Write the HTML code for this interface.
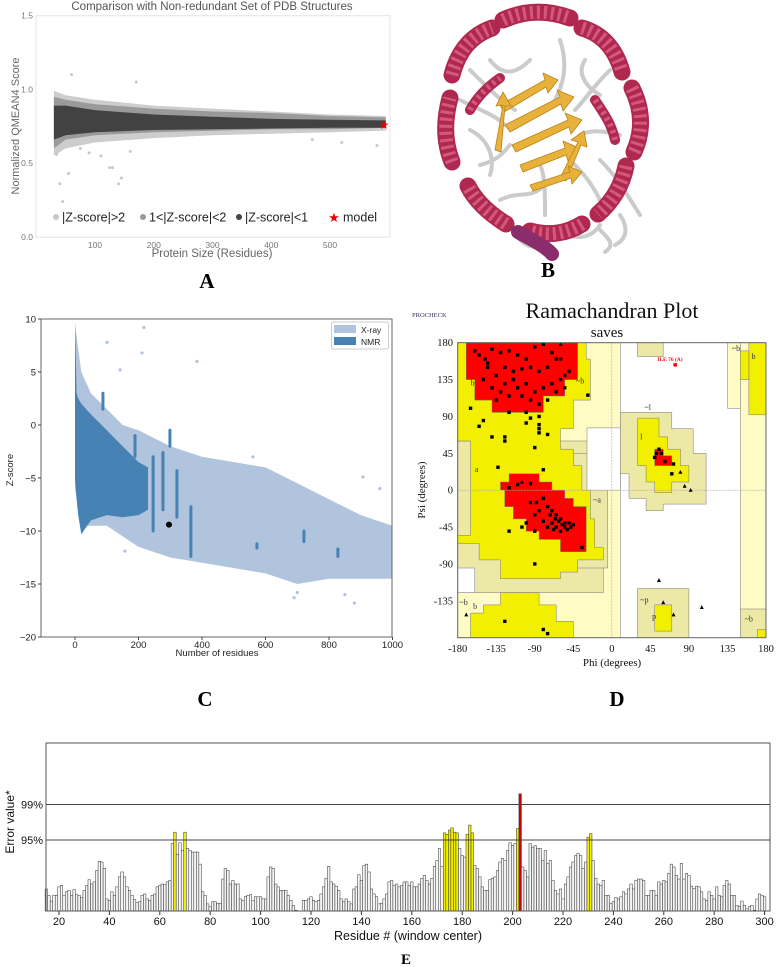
<!DOCTYPE html>
<html><head><meta charset="utf-8"><style>
html,body{margin:0;padding:0;background:#fff}
svg{display:block}
text{font-family:"Liberation Sans",sans-serif}
.serif{font-family:"Liberation Serif",serif}
</style></head><body>
<svg id="fig" width="778" height="967" viewBox="0 0 778 967" xmlns="http://www.w3.org/2000/svg">
<rect width="778" height="967" fill="#fff"/>
<g id="pA">
<text x="212" y="10" font-size="11.5" fill="#555" text-anchor="middle">Comparison with Non-redundant Set of PDB Structures</text>
<rect x="36" y="15.7" width="354" height="221.5" fill="none" stroke="#e4e4e4"/>
<text transform="translate(19,126) rotate(-90)" font-size="11" fill="#666" text-anchor="middle">Normalized QMEAN4 Score</text>
<text x="212" y="257" font-size="11.5" fill="#666" text-anchor="middle">Protein Size (Residues)</text>
<g font-size="12.5" fill="#222">
<circle cx="56" cy="217" r="3" fill="#c8c8c8"/><text x="62" y="221.5">|Z-score|&gt;2</text>
<circle cx="143" cy="217" r="3" fill="#999"/><text x="149" y="221.5">1&lt;|Z-score|&lt;2</text>
<circle cx="239" cy="217" r="3" fill="#444"/><text x="245" y="221.5">|Z-score|&lt;1</text>
<text x="334" y="222" font-size="13" fill="#e00" text-anchor="middle">★</text><text x="343" y="221.5">model</text>
</g>
</g>
<text x="207" y="288" class="serif" font-size="21" font-weight="bold" text-anchor="middle">A</text>
<g id="pB" fill="none" stroke-linecap="round" stroke-linejoin="round"></g>
<text x="548" y="277" class="serif" font-size="21" font-weight="bold" text-anchor="middle">B</text>
<g id="pC">
<text transform="translate(13,470) rotate(-90)" font-size="9.5" fill="#222" text-anchor="middle">Z-score</text>
<text x="217" y="656" font-size="9.5" fill="#222" text-anchor="middle">Number of residues</text>
</g>
<text x="205" y="706" class="serif" font-size="21" font-weight="bold" text-anchor="middle">C</text>
<g id="pD">
<text x="412" y="317" class="serif" font-size="6.5" fill="#335">PROCHECK</text>
<text x="612" y="318" class="serif" font-size="22" fill="#111" text-anchor="middle">Ramachandran Plot</text>
<text x="607" y="337" class="serif" font-size="15" fill="#111" text-anchor="middle">saves</text>
<text transform="translate(425,490) rotate(-90)" class="serif" font-size="11" fill="#111" text-anchor="middle">Psi (degrees)</text>
<text x="612" y="666" class="serif" font-size="11" fill="#111" text-anchor="middle">Phi (degrees)</text>
</g>
<text x="617" y="706" class="serif" font-size="21" font-weight="bold" text-anchor="middle">D</text>
<g id="pE">
<text transform="translate(14,822) rotate(-90)" font-size="12" fill="#111" text-anchor="middle">Error value*</text>
<text x="408" y="940" font-size="12.5" fill="#111" text-anchor="middle">Residue # (window center)</text>
</g>
<text x="406" y="964" class="serif" font-size="15" font-weight="bold" text-anchor="middle">E</text>
</svg>
<script>
// ---------- Panel A data ----------
const aBandX = [30, 50, 100, 200, 300, 400, 500, 595];
const aLightHi = [0.99, 0.96, 0.93, 0.89, 0.87, 0.85, 0.83, 0.82];
const aLightLo = [0.55, 0.60, 0.64, 0.67, 0.69, 0.70, 0.71, 0.72];
const aMedHi = [0.95, 0.93, 0.90, 0.87, 0.85, 0.84, 0.82, 0.81];
const aMedLo = [0.60, 0.66, 0.69, 0.71, 0.72, 0.73, 0.73, 0.74];
const aDarkHi = [0.89, 0.89, 0.86, 0.83, 0.815, 0.80, 0.795, 0.79];
const aDarkLo = [0.66, 0.69, 0.71, 0.725, 0.73, 0.735, 0.74, 0.74];
const aOutX = [60, 170, 40, 45, 140, 125, 130, 55, 90, 145, 35, 75, 110, 160, 580, 470, 520];
const aOutY = [1.10, 1.05, 0.36, 0.24, 0.36, 0.47, 0.47, 0.43, 0.57, 0.40, 0.56, 0.6, 0.55, 0.58, 0.62, 0.66, 0.64];
const aModelX = [592];
const aModelY = [0.76];
const aXTicks = [100, 200, 300, 400, 500];
const aYTicks = [0.0, 0.5, 1.0, 1.5];
// ---------- Panel C data ----------
const cXrayX = [0, 20, 50, 100, 150, 200, 300, 400, 500, 600, 700, 800, 900, 1000];
const cXrayHi = [9.5, 5, 3, 1.5, 0, -0.5, -2, -3, -3.5, -4, -5.5, -7, -8.5, -9.5];
const cXrayLo = [-6, -9.5, -9.5, -9.5, -10.5, -11.5, -12.5, -13, -13.5, -14, -15, -14.5, -14.5, -14.5];
const cNmrX = [0, 5, 10, 20, 50, 100, 150, 200, 230];
const cNmrHi = [9.8, 3, 2.5, 2, 1, -0.5, -2, -3.5, -4];
const cNmrLo = [-5, -7, -8.5, -10.3, -9, -8.5, -8.7, -8.5, -8];
const cStreakX = [88, 189, 246, 277, 299, 321, 365, 573, 721, 828];
const cStreakTop = [3, -1, -3, -2.6, -0.5, -4.3, -7.7, -11.2, -10, -11.7];
const cStreakBot = [1.5, -3, -10, -8, -2, -8.7, -12.4, -11.6, -11, -12.4];
const cOutX = [217, 384, 101, 211, 142, 157, 907, 690, 700, 880, 850, 640, 560, 960];
const cOutZ = [9.2, 6, 7.8, 6.8, 5.2, -11.9, -4.9, -16.3, -15.8, -16.8, -16, -14, -3, -6];
const cModelX = [296];
const cModelZ = [-9.4];
const cXTicks = [0, 200, 400, 600, 800, 1000];
const cYTicks = [10, 5, 0, -5, -10, -15, -20];
// ---------- Panel D data (degrees) ----------
const dTicks = [-180, -135, -90, -45, 0, 45, 90, 135, 180];
const dPhi = [-160,-155,-148,-140,-130,-120,-110,-100,-90,-80,-70,-65,-75,-85,-95,-105,-115,-125,-135,-145,-150,-140,-130,-120,-110,-100,-90,-80,-70,-60,-55,-65,-75,-85,-95,-105,-115,-125,-135,-145,-60,-50,-55,-100,-120,-28,
 -165,-150,-155,-140,-125,-125,-100,-85,-85,-85,-85,-75,-90,-95,-133,
 -110,-95,-120,-80,-95,-88,-80,-75,-70,-65,-60,-55,-50,-65,-60,-55,-70,-62,-58,-66,-72,-52,-48,-45,-68,-75,-80,-85,-90,-100,-105,-120,-90,-35,-90,-80,-75,-125,
 55,52,50,58,62,70,72];
const dPsi = [170,165,160,172,168,170,165,160,175,178,168,160,150,145,150,148,145,150,140,150,135,125,120,115,125,130,120,125,130,135,140,120,110,105,110,115,135,130,110,155,160,145,125,95,95,116,
 100,85,78,65,65,60,82,90,80,75,70,68,52,88,28,
 7,8,3,25,-15,-15,-10,-20,-25,-30,-35,-40,-40,-45,-50,-45,-40,-38,-42,-35,-30,-48,-45,-42,-48,-45,-38,-25,-30,-40,-45,-50,-50,-70,-90,-170,-175,-160,
 50,45,40,45,35,20,32];
const dGlyPhi = [-105, -60, 80, 85, 92, 55, 60, 72, 105, -170];
const dGlyPsi = [10, 178, 22, 5, 0, -110, -137, -152, -143, -152];
const dFlagPhi = [74];
const dFlagPsi = [153];
// ---------- Panel E data ----------
const eStart = 15;
const eValues = [
0.31,0.22,0.14,0.22,0.22,0.34,0.36,0.22,0.27,0.29, 0.22,0.30,0.23,0.22,0.19,0.29,0.36,0.44,0.38,0.41,
0.57,0.70,0.69,0.60,0.17,0.15,0.27,0.22,0.34,0.48, 0.55,0.48,0.34,0.29,0.22,0.16,0.12,0.13,0.22,0.24,
0.17,0.15,0.22,0.24,0.34,0.36,0.38,0.37,0.41,0.43, 0.95,1.11,0.80,0.96,0.85,1.11,0.88,0.85,0.83,0.83,
0.83,0.66,0.27,0.22,0.10,0.06,0.13,0.13,0.11,0.11, 0.45,0.60,0.57,0.38,0.43,0.38,0.38,0.17,0.15,0.20,
0.22,0.23,0.15,0.20,0.20,0.20,0.17,0.17,0.48,0.62, 0.60,0.38,0.34,0.29,0.29,0.29,0.22,0.15,0.08,0.01,
0.00,0.00,0.15,0.15,0.17,0.20,0.15,0.13,0.15,0.24, 0.34,0.46,0.63,0.41,0.38,0.35,0.29,0.17,0.13,0.17,
0.13,0.10,0.31,0.34,0.51,0.43,0.64,0.66,0.55,0.31, 0.24,0.20,0.10,0.11,0.17,0.24,0.41,0.43,0.36,0.38,
0.34,0.36,0.41,0.41,0.36,0.41,0.34,0.34,0.38,0.46, 0.50,0.43,0.38,0.46,0.63,0.71,0.88,0.63,1.10,1.08,
1.14,1.17,1.11,1.10,0.88,0.78,0.76,1.08,1.21,1.10, 0.64,0.60,0.48,0.34,0.29,0.29,0.44,0.46,0.48,0.57,
0.69,0.74,0.71,0.85,0.96,0.92,0.95,1.16,1.65,0.62, 0.57,0.48,0.95,0.90,0.92,0.88,0.88,0.71,0.85,0.67,
0.71,0.43,0.29,0.24,0.31,0.17,0.38,0.48,0.62,0.69, 0.78,0.81,0.78,0.60,0.69,1.04,1.09,0.71,0.46,0.38,
0.36,0.43,0.22,0.22,0.11,0.13,0.19,0.17,0.20,0.27, 0.24,0.31,0.38,0.31,0.43,0.45,0.45,0.43,0.22,0.22,
0.29,0.29,0.22,0.41,0.38,0.43,0.41,0.53,0.66,0.62, 0.50,0.45,0.67,0.45,0.53,0.50,0.35,0.32,0.35,0.34,
0.27,0.17,0.15,0.27,0.22,0.17,0.34,0.22,0.20,0.36, 0.43,0.38,0.22,0.22,0.08,0.06,0.14,0.08,0.03,0.06,
0.08,0.01,0.17,0.24,0.22,0.20];
const eThresholds = [1.0, 1.5];
const eThresholdLabels = ['95%', '99%'];
const eXTicks = [20,40,60,80,100,120,140,160,180,200,220,240,260,280,300];

const NS = 'http://www.w3.org/2000/svg';
const svg = document.getElementById('fig');
function mk(tag, parent, attrs) { const e = document.createElementNS(NS, tag); for (const k in attrs) e.setAttribute(k, attrs[k]); (parent || svg).appendChild(e); return e; }

// ===== Panel A =====
const gA = document.getElementById('pA');
const axA = v => 36.25 + v * 0.5875;
const ayA = v => 237 - v * 147.6;
function bandPath(xs, hi, lo, fx, fy) {
  let d = '';
  xs.forEach((x, i) => { d += (i ? 'L' : 'M') + fx(x).toFixed(1) + ' ' + fy(hi[i]).toFixed(1); });
  for (let i = xs.length - 1; i >= 0; i--) d += 'L' + fx(xs[i]).toFixed(1) + ' ' + fy(lo[i]).toFixed(1);
  return d + 'Z';
}
[[aLightHi, aLightLo, '#cdcdcd', 'band-z-gt2'], [aMedHi, aMedLo, '#9a9a9a', 'band-z-1-2'], [aDarkHi, aDarkLo, '#424242', 'band-z-lt1']].forEach(b => {
  const p = mk('path', gA, { d: bandPath(aBandX, b[0], b[1], axA, ayA), fill: b[2] });
  
  
});
aOutX.forEach((x, i) => {
  const c = mk('circle', gA, { cx: axA(x), cy: ayA(aOutY[i]), r: 1.5, fill: '#c8c8c8' });
  
  
});
aModelX.forEach((x, i) => {
  const t = mk('text', gA, { x: axA(x), y: ayA(aModelY[i]) + 4, 'font-size': 12, fill: '#e00', 'text-anchor': 'middle' });
  t.textContent = '★';
  
  
});
aXTicks.forEach(v => {
  const t = mk('text', gA, { x: axA(v), y: 248, 'font-size': 8.5, fill: '#777', 'text-anchor': 'middle' });
  t.textContent = v;
  
  
});
aYTicks.forEach(v => {
  const t = mk('text', gA, { x: 33, y: ayA(v) + 3, 'font-size': 8.5, fill: '#777', 'text-anchor': 'end' });
  t.textContent = v.toFixed(1);
  
  
});

// ===== Panel B (illustration) =====
const gB = document.getElementById('pB');
const coilPaths = ['M470 70 C490 90 500 100 515 110','M560 40 C570 70 560 90 555 100','M610 70 C590 90 585 100 575 110',
 'M620 135 C600 130 590 130 580 135','M600 200 C590 180 580 170 570 160','M545 215 C545 190 545 175 540 165',
 'M480 165 C500 160 505 150 510 145','M460 100 C480 110 495 115 505 125','M555 230 C575 240 590 240 600 225',
 'M520 240 C530 250 540 245 548 255','M600 230 C610 240 615 245 605 252','M490 60 C505 80 520 70 530 60',
 'M500 200 C520 190 530 200 545 185','M585 60 C575 75 590 90 600 95','M470 130 C490 140 495 160 490 175',
 'M600 160 C620 180 630 200 640 215','M620 215 C630 230 625 240 615 245'];
coilPaths.forEach(d => {
  const p = mk('path', gB, { d: d, stroke: '#cbcbcb', 'stroke-width': 4 });
  
  
});
const helixPaths = ['M452 75 C458 52 470 36 492 28','M503 20 C525 10 548 10 570 18','M582 28 C603 34 616 50 622 72',
 'M632 88 C643 110 643 132 634 152','M626 166 C622 186 612 202 598 214','M582 224 C566 234 548 236 530 231',
 'M506 224 C490 214 476 202 468 186','M452 162 C444 142 444 120 450 98','M470 110 C478 95 490 85 500 78',
 'M595 100 C605 115 612 125 615 140'];
helixPaths.forEach((d, i) => {
  const w = i >= 8 ? 10 : 17;
  const p = mk('path', gB, { d: d, stroke: '#b0284f', 'stroke-width': w });
  
  
  const h = mk('path', gB, { d: d, stroke: '#de6a8d', 'stroke-width': w - 4, 'stroke-dasharray': '3 4', 'stroke-linecap': 'butt', opacity: 0.75 });
  
  
});
const th = mk('path', gB, { d: 'M518 232 C532 240 545 246 552 254', stroke: '#8a2d6d', 'stroke-width': 14 });


const sheetPts = ['500,105 545,80 543,73 558,80 548,93 546,87 504,112','505,125 560,97 557,90 574,97 563,111 561,104 510,132',
 '512,145 568,120 565,113 582,120 571,134 569,127 516,152','520,165 565,148 563,141 579,148 568,161 566,155 523,172',
 '495,150 503,105 496,106 503,92 511,106 505,106 501,152','560,178 578,142 571,140 584,131 587,147 581,145 566,181',
 '530,185 570,172 568,166 582,172 572,184 571,178 533,191'];
sheetPts.forEach(pt => {
  const p = mk('polygon', gB, { points: pt, fill: '#e8b13b', stroke: '#b98316', 'stroke-width': 0.8 });
  
  
});

// ===== Panel C =====
const gC = document.getElementById('pC');
const axC = v => 75 + v * 0.3175;
const ayC = v => 319 + (10 - v) * 10.6;
const xr = mk('path', gC, { d: bandPath(cXrayX, cXrayHi, cXrayLo, axC, ayC), fill: '#b0c4de' });


cOutX.forEach((x, i) => {
  const c = mk('circle', gC, { cx: axC(x), cy: ayC(cOutZ[i]), r: 1.6, fill: '#b0c4de' });
  
  
});
const nm = mk('path', gC, { d: bandPath(cNmrX, cNmrHi, cNmrLo, axC, ayC), fill: '#4682b4' });


cStreakX.forEach((x, i) => {
  const l = mk('line', gC, { x1: axC(x), x2: axC(x), y1: ayC(cStreakTop[i]), y2: ayC(cStreakBot[i]), stroke: '#4682b4', 'stroke-width': 3, 'stroke-linecap': 'round' });
  
  
});
cModelX.forEach((x, i) => {
  const c = mk('circle', gC, { cx: axC(x), cy: ayC(cModelZ[i]), r: 3, fill: '#000' });
  
  
});
const cf = mk('path', gC, { d: 'M41 319 L392 319 L392 637 L41 637 Z', fill: 'none', stroke: '#666', 'stroke-width': 1 });


cXTicks.forEach(v => {
  const l = mk('line', gC, { x1: axC(v), x2: axC(v), y1: 637, y2: 640, stroke: '#444' });
  
  
  const t = mk('text', gC, { x: axC(v), y: 648, 'font-size': 9.5, fill: '#222', 'text-anchor': 'middle' });
  t.textContent = v;
  
  
});
cYTicks.forEach(v => {
  const l = mk('line', gC, { x1: 38, x2: 41, y1: ayC(v), y2: ayC(v), stroke: '#444' });
  
  
  const t = mk('text', gC, { x: 36, y: ayC(v) + 3.5, 'font-size': 9.5, fill: '#222', 'text-anchor': 'end' });
  t.textContent = v < 0 ? '\u2212' + Math.abs(v) : v;
  
  
});
const lg = mk('g', gC, {});


mk('rect', lg, { x: 331.5, y: 322, width: 57, height: 27, fill: '#fff', stroke: '#ccc', rx: 2 });
mk('rect', lg, { x: 334, y: 325, width: 22, height: 8, fill: '#b0c4de' });
mk('rect', lg, { x: 334, y: 337, width: 22, height: 8, fill: '#4682b4' });
const lt1 = mk('text', lg, { x: 361, y: 333, 'font-size': 8.5, fill: '#222' }); lt1.textContent = 'X-ray';


const lt2 = mk('text', lg, { x: 361, y: 345, 'font-size': 8.5, fill: '#222' }); lt2.textContent = 'NMR';



// ===== Panel D =====
const gD = document.getElementById('pD');
const axD = v => 457.7 + (v + 180) * 308.3 / 360;
const ayD = v => 342.7 + (180 - v) * 295 / 360;
function polyD(pts, fill, name) {
  const p = mk('polygon', gD, { points: pts.map(q => axD(q[0]).toFixed(1) + ',' + ayD(q[1]).toFixed(1)).join(' '), fill: fill, stroke: '#777', 'stroke-width': 0.5 });
  
  
}
function rectD(r, fill, name) { polyD([[r[0], r[3]], [r[1], r[3]], [r[1], r[2]], [r[0], r[2]]], fill, name); }
const PALE = '#fffbc4', TAN = '#ece8a6', YEL = '#f2f000', RED = '#ff0000';
const bg = mk('rect', gD, { x: axD(-180), y: ayD(180), width: axD(180) - axD(-180), height: ayD(-180) - ayD(180), fill: '#fff' });


rectD([-180, 10, -180, 180], PALE, 'generous-region');
rectD([150, 180, -180, 180], PALE, 'generous-region');
rectD([135, 150, 100, 180], PALE, 'generous-region');
rectD([-180, -10, -125, 60], TAN, 'generous-region-alpha');
rectD([-45, -5, -95, 45], TAN, 'generous-region-alpha');
rectD([-29, 10, 0, 76], '#fff', 'disallowed-region');
rectD([-180, -160, -125, -95], '#fff', 'disallowed-region');
rectD([30, 60, 163, 180], TAN, 'generous-region-top');
rectD([30, 90, -180, -120], TAN, 'generous-region-p');
rectD([150, 180, -180, -145], TAN, 'generous-region-b');
polyD([[10,95],[70,95],[70,75],[95,75],[95,45],[110,45],[110,-17],[60,-17],[60,-25],[40,-25],[40,-10],[20,-10],[20,20],[10,20]], TAN, 'generous-region-l');
polyD([[-180,180],[-30,180],[-30,160],[-25,160],[-25,110],[-45,110],[-45,75],[-60,75],[-60,50],[-45,50],[-45,30],[-35,30],[-35,0],[-25,0],[-25,-35],[-20,-35],[-20,-70],[-10,-70],[-10,-85],[-40,-85],[-40,-100],[-60,-100],[-60,-108],[-130,-108],[-130,-85],[-155,-85],[-155,-65],[-180,-65],[-180,-55],[-165,-55],[-165,60],[-180,60]], YEL, 'allowed-region-beta-alpha');
polyD([[-165,-180],[-45,-180],[-45,-160],[-65,-160],[-65,-140],[-85,-140],[-85,-125],[-130,-125],[-130,-140],[-150,-140],[-150,-150],[-165,-150]], YEL, 'allowed-region-bottom');
polyD([[30,88],[55,88],[55,65],[65,65],[65,50],[80,50],[80,30],[90,30],[90,10],[70,10],[70,-3],[50,-3],[50,10],[40,10],[40,30],[30,30]], YEL, 'allowed-region-l');
rectD([50, 70, -172, -140], YEL, 'allowed-region-p');
rectD([160, 180, 92, 180], YEL, 'allowed-region-right');
rectD([150, 160, 135, 170], YEL, 'allowed-region-right');
rectD([170, 180, -180, -170], YEL, 'allowed-region-right');
polyD([[-170,180],[-40,180],[-40,135],[-55,135],[-55,115],[-80,115],[-80,95],[-140,95],[-140,110],[-160,110],[-160,135],[-170,135]], RED, 'core-region-beta');
polyD([[-120,20],[-85,20],[-85,10],[-70,10],[-70,0],[-55,0],[-55,-10],[-45,-10],[-45,-20],[-30,-20],[-30,-75],[-60,-75],[-60,-60],[-85,-60],[-85,-50],[-100,-50],[-100,-35],[-115,-35],[-115,-20],[-125,-20],[-125,0],[-130,0],[-130,10],[-120,10]], RED, 'core-region-alpha');
polyD([[50,50],[60,50],[60,42],[70,42],[70,30],[50,30]], RED, 'core-region-l');
const gx = mk('line', gD, { x1: axD(0), x2: axD(0), y1: ayD(180), y2: ayD(-180), stroke: '#aaa', 'stroke-width': 0.6, 'stroke-dasharray': '2,1' });


const gy = mk('line', gD, { x1: axD(-180), x2: axD(180), y1: ayD(0), y2: ayD(0), stroke: '#aaa', 'stroke-width': 0.6, 'stroke-dasharray': '2,1' });


[['b',-165,128],['a',-160,22],['~b',-42,130],['~a',-22,-15],['~l',38,98],['l',33,62],['~b',-178,-140],['b',-162,-145],['~p',33,-137],['p',47,-157],['~b',140,170],['b',163,160],['~b',155,-160]].forEach(l => {
  const t = mk('text', gD, { x: axD(l[1]), y: ayD(l[2]), 'font-size': 8, fill: '#333', class: 'serif' });
  t.textContent = l[0];
  
  
});
dPhi.forEach((p, i) => {
  const r = mk('rect', gD, { x: axD(p) - 1.7, y: ayD(dPsi[i]) - 1.7, width: 3.4, height: 3.4, fill: '#000' });
  
  
});
dGlyPhi.forEach((p, i) => {
  const x = axD(p), y = ayD(dGlyPsi[i]);
  const t = mk('polygon', gD, { points: `${x},${y - 2.2} ${x + 2},${y + 1.6} ${x - 2},${y + 1.6}`, fill: '#000' });
  
  
});
dFlagPhi.forEach((p, i) => {
  const r = mk('rect', gD, { x: axD(p) - 1.7, y: ayD(dFlagPsi[i]) - 1.7, width: 3.4, height: 3.4, fill: '#e00' });
  
  
  const t = mk('text', gD, { x: axD(p) - 18, y: ayD(dFlagPsi[i]) - 4, 'font-size': 5.5, fill: '#e00', class: 'serif', 'font-weight': 'bold' });
  t.textContent = 'ILE 76 (A)';
  
  
});
const df = mk('rect', gD, { x: axD(-180), y: ayD(180), width: axD(180) - axD(-180), height: ayD(-180) - ayD(180), fill: 'none', stroke: '#666', 'stroke-width': 1 });


dTicks.forEach(v => {
  const t = mk('text', gD, { x: axD(v), y: 652, 'font-size': 10.5, fill: '#111', 'text-anchor': 'middle', class: 'serif' });
  t.textContent = v;
  
  
  if (v === -180) return;
  const t2 = mk('text', gD, { x: 453, y: ayD(v) + 3.5, 'font-size': 10.5, fill: '#111', 'text-anchor': 'end', class: 'serif' });
  t2.textContent = v;
  
  
});

// ===== Panel E =====
const gE = document.getElementById('pE');
const axE = r => 59 + (r - 20) * 2.52;
const ayE = v => 911 - v * 71;
const eBw = 2.52;
eValues.forEach((v, i) => {
  const r = eStart + i;
  const fill = v >= eThresholds[1] ? '#cc0000' : (v >= eThresholds[0] ? '#f2ee00' : '#f4f4f4');
  const b = mk('rect', gE, { x: axE(r) - eBw / 2, y: ayE(v), width: eBw, height: Math.max(0, 911 - ayE(v)), fill: fill, stroke: '#333', 'stroke-width': 0.5 });
  
  
});
eThresholds.forEach((v, i) => {
  const l = mk('line', gE, { x1: 46, x2: 770, y1: ayE(v), y2: ayE(v), stroke: '#444', 'stroke-width': 1 });
  
  
  const t = mk('text', gE, { x: 43, y: ayE(v) + 4, 'font-size': 11, fill: '#111', 'text-anchor': 'end' });
  t.textContent = eThresholdLabels[i];
  
  
});
const ef = mk('rect', gE, { x: 46, y: 743, width: 724, height: 168, fill: 'none', stroke: '#555', 'stroke-width': 1 });


eXTicks.forEach(v => {
  const l = mk('line', gE, { x1: axE(v), x2: axE(v), y1: 911, y2: 915, stroke: '#333' });
  
  
  const t = mk('text', gE, { x: axE(v), y: 925, 'font-size': 11, fill: '#111', 'text-anchor': 'middle' });
  t.textContent = v;
  
  
});
</script>
</body></html>
